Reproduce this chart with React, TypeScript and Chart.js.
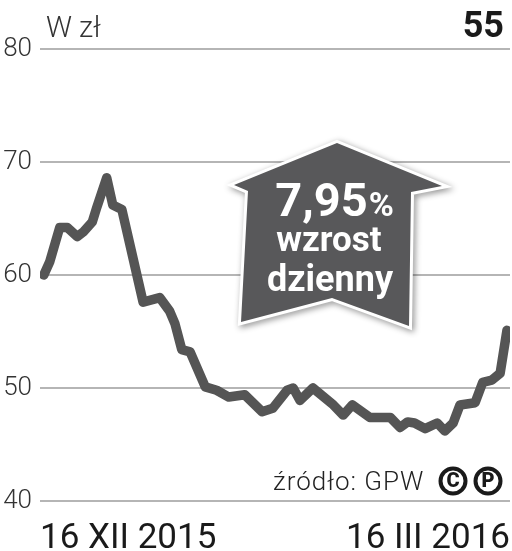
import React, { useEffect, useRef } from "react";
import { Chart, registerables } from "chart.js";

Chart.register(...registerables);

// Trading-day index (0 = 16 XII 2015, 61 = 16 III 2016) and closing prices (zł)
const dayIndex = [
  0, 0.8, 2.1, 3.1, 4.4, 5.2, 6.4, 7.0, 8.3, 9.1, 10.3, 13.1, 15.3, 16.6, 17.3,
  18.2, 19.3, 21.3, 22.8, 24.4, 26.5, 28.8, 30.2, 32.1, 32.9, 33.8, 35.5, 38.2,
  39.5, 40.7, 43.0, 45.7, 47.0, 48.0, 48.9, 50.3, 51.9, 52.9, 54.0, 54.9, 56.9,
  57.9, 59.1, 60.2, 61.1,
];
const prices = [
  60.0, 61.2, 64.2, 64.2, 63.4, 63.8, 64.7, 66.0, 68.6, 66.2, 65.8, 57.6, 58.0,
  56.8, 55.7, 53.4, 53.2, 50.1, 49.8, 49.2, 49.4, 47.9, 48.2, 49.8, 50.0, 48.9,
  50.0, 48.5, 47.6, 48.5, 47.4, 47.4, 46.5, 47.0, 46.9, 46.4, 46.9, 46.2, 46.9,
  48.5, 48.7, 50.5, 50.7, 51.3, 55.1,
];
const yTicks = [40, 50, 60, 70, 80];
const xLabels = ["16 XII 2015", "16 III 2016"];
const xRange = [-0.5, 61.5];
const unitLabel = "W zł";
const lastPrice = "55";
const changeValue = "7,95";
const changeLines = ["wzrost", "dzienny"];
const sourceText = "źródło: GPW";

const overlayPlugin = {
  id: "overlay",
  afterDraw(chart: any) {
    const ctx: any = chart.ctx;
    ctx.save();
    // unit label
    ctx.fillStyle = "#333";
    ctx.textBaseline = "alphabetic";
    ctx.textAlign = "left";
    ctx.font = "300 29px Roboto";
    ctx.fillText(unitLabel, 46, 37);
    // last price
    ctx.fillStyle = "#1a1a1a";
    ctx.textAlign = "right";
    ctx.font = "bold 36px Roboto";
    ctx.fillText(lastPrice, 504, 37);
    // source
    ctx.fillStyle = "#222";
    ctx.textAlign = "left";
    ctx.font = "300 26px Roboto";
    ctx.letterSpacing = "1px";
    ctx.fillText(sourceText, 273, 490);
    ctx.letterSpacing = "0px";
    const circled = (ch: string, cx: number, cy: number) => {
      ctx.beginPath();
      ctx.arc(cx, cy, 12.5, 0, Math.PI * 2);
      ctx.lineWidth = 4;
      ctx.strokeStyle = "#1a1a1a";
      ctx.stroke();
      ctx.fillStyle = "#1a1a1a";
      ctx.font = "900 20px Roboto";
      ctx.textAlign = "center";
      ctx.textBaseline = "middle";
      ctx.fillText(ch, cx, cy + 1);
    };
    circled("C", 453, 481);
    circled("P", 488, 481);

    // arrow badge
    const pts = [
      [337, 143],
      [442, 186],
      [411, 192],
      [409, 326],
      [332, 298],
      [241, 322],
      [248, 191],
      [234, 185],
    ];
    const path = () => {
      ctx.beginPath();
      pts.forEach(([x, y], i) => (i ? ctx.lineTo(x, y) : ctx.moveTo(x, y)));
      ctx.closePath();
    };
    ctx.save();
    ctx.shadowColor = "rgba(0,0,0,0.45)";
    ctx.shadowBlur = 6;
    ctx.shadowOffsetX = 2;
    ctx.shadowOffsetY = 2;
    path();
    ctx.lineJoin = "miter";
    ctx.lineWidth = 6;
    ctx.strokeStyle = "#fff";
    ctx.stroke();
    ctx.restore();
    path();
    ctx.fillStyle = "#58585a";
    ctx.fill();

    ctx.fillStyle = "#fff";
    ctx.textBaseline = "alphabetic";
    ctx.textAlign = "left";
    ctx.font = "bold 47px Roboto";
    const w1 = ctx.measureText(changeValue).width;
    ctx.font = "bold 34px Roboto";
    const w2 = ctx.measureText("%").width;
    const startX = 334 - (w1 + w2) / 2;
    ctx.font = "bold 47px Roboto";
    ctx.fillText(changeValue, startX, 216);
    ctx.font = "bold 34px Roboto";
    ctx.fillText("%", startX + w1 + 1, 216);
    ctx.textAlign = "center";
    ctx.font = "bold 35px Roboto";
    ctx.fillText(changeLines[0], 329, 251);
    ctx.font = "bold 36px Roboto";
    ctx.fillText(changeLines[1], 330, 291);
    ctx.restore();
  },
};

export default function App() {
  const ref = useRef<HTMLCanvasElement | null>(null);
  useEffect(() => {
    if (!ref.current) return;
    const chart = new Chart(ref.current, {
      type: "line",
      data: {
        datasets: [
          {
            data: dayIndex.map((x, i) => ({ x, y: prices[i] })),
            borderColor: "#555555",
            borderWidth: 9.5,
            pointRadius: 0,
            tension: 0,
            borderJoinStyle: "round",
            borderCapStyle: "round",
          },
        ],
      },
      options: {
        responsive: false,
        animation: false,
        layout: { padding: { top: 49, right: 2, left: 0, bottom: 0 } },
        plugins: { legend: { display: false }, tooltip: { enabled: false } },
        scales: {
          x: {
            type: "linear",
            min: xRange[0],
            max: xRange[1],
            afterBuildTicks: (scale: any) => {
              scale.ticks = xRange.map((v) => ({ value: v }));
            },
            afterFit: (scale: any) => {
              scale.height = 50;
              scale.paddingLeft = 0;
              scale.paddingRight = 0;
            },
            grid: { display: false, drawTicks: false },
            border: { display: false },
            ticks: {
              autoSkip: false,
              maxRotation: 0,
              align: "inner",
              padding: 17,
              color: "#1a1a1a",
              font: { family: "Roboto", size: 35 },
              callback: (_v: any, i: number) => xLabels[i],
            },
          },
          y: {
            min: 40,
            max: 80,
            afterBuildTicks: (scale: any) => {
              scale.ticks = yTicks.map((v) => ({ value: v }));
            },
            afterFit: (scale: any) => {
              scale.width = 40;
            },
            grid: { color: "#b5b5b5", lineWidth: 2, drawTicks: false },
            border: { display: false },
            ticks: {
              padding: 8,
              color: "#333",
              font: { family: "Roboto", size: 26, weight: "300" },
            },
          },
        },
      },
      plugins: [overlayPlugin],
    } as any);
    return () => chart.destroy();
  }, []);
  return (
    <div style={{ position: "absolute", left: 0, top: 0, width: 512, height: 551 }}>
      <canvas ref={ref} width={512} height={551} />
    </div>
  );
}
